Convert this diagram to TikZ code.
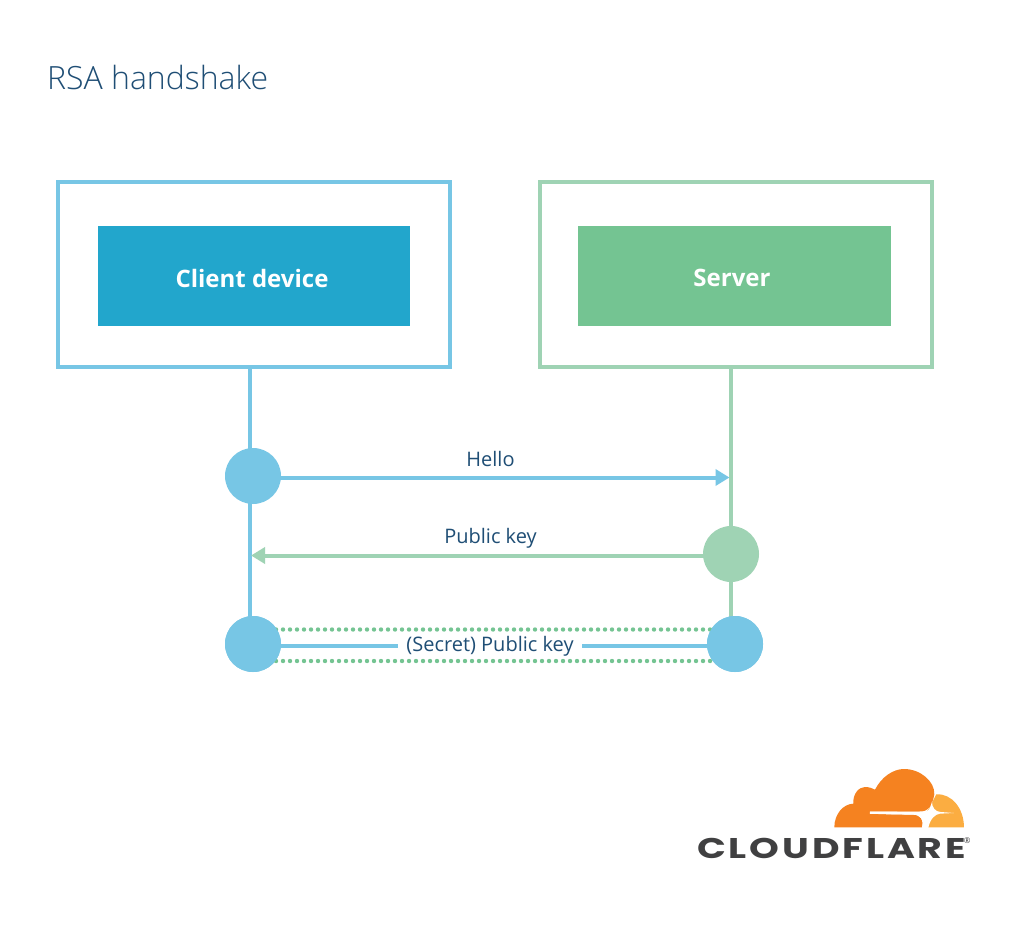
\documentclass[tikz,border=0pt]{standalone}
\usepackage{fontspec}
\setmainfont{Open Sans}
\newfontfamily\titlefont{Open Sans Light}
\newfontfamily\logofont[LetterSpace=10,FakeStretch=1.33]{Poppins Bold}
\usetikzlibrary{arrows.meta}
\definecolor{ltblue}{HTML}{77C6E5}
\definecolor{ltgreen}{HTML}{9FD3B4}
\definecolor{dblue}{HTML}{22A6CC}
\definecolor{dgreen}{HTML}{74C492}
\definecolor{navy}{HTML}{1F4E75}
\definecolor{cforange}{HTML}{F58220}
\definecolor{cflight}{HTML}{FBAD41}
\definecolor{cfgrey}{HTML}{404041}
\tikzset{
  frame/.style={draw=#1,line width=4pt,fill=white,inner sep=0pt,anchor=north west},
  inner/.style={fill=#1,inner sep=0pt,minimum width=312.5pt,minimum height=100pt},
  boxlabel/.style={text=white,font=\fontsize{24}{28}\selectfont\bfseries,inner sep=0pt},
  dot/.style={circle,fill=#1,inner sep=0pt,minimum size=56pt},
  lifeline/.style={draw=#1,line width=4pt},
  msg/.style={draw=#1,line width=4pt,-{Triangle[length=14pt,width=16pt]}},
  plainmsg/.style={draw=#1,line width=4pt},
  dots/.style={draw=dgreen,line width=4.4pt,line cap=round,dash pattern=on 0pt off 7pt},
  label/.style={text=navy,font=\fontsize{20}{24}\selectfont,inner sep=0pt},
}
\begin{document}
\begin{tikzpicture}[x=1pt,y=-1pt]
\useasboundingbox (0,0) rectangle (1016,936);
\fill[white] (0,0) rectangle (1016,936);
\node[text=navy,font=\titlefont\fontsize{32}{36}\selectfont,anchor=base west,inner sep=0pt] (title) at (47,90) {RSA handshake};
\node[frame=ltblue,minimum width=391.5pt,minimum height=185pt] (clientbox) at (56,180) {};
\node[frame=ltgreen,minimum width=391.5pt,minimum height=185pt] (serverbox) at (538,180) {};
\node[inner=dblue] (clientbg) at (254,276) {};
\node[inner=dgreen] (serverbg) at (734.5,276) {};
\node[boxlabel] (client) at (252,278) {Client device};
\node[boxlabel] (server) at (732,278) {Server};
\coordinate (ctop) at (250,368);
\coordinate (cbot) at (250,630);
\coordinate (stop) at (731,368);
\coordinate (sbot) at (731,630);
\draw[lifeline=ltblue] (ctop) -- (cbot);
\draw[lifeline=ltgreen] (stop) -- (sbot);
\node[dot=ltblue] (c1) at (253,476) {};
\node[dot=ltgreen] (s2) at (731,554) {};
\node[dot=ltblue] (c3) at (253,644) {};
\node[dot=ltblue] (s3) at (735,644) {};
\coordinate (helloend) at (729.5,477.5);
\coordinate (helloout) at (270,477.5);
\coordinate (keyend) at (251,555.5);
\coordinate (keyout) at (715,555.5);
\node[label] (hello) at (490.5,459) {Hello};
\node[label] (pubkey) at (490.5,538) {Public key};
\node[label,minimum width=184pt,minimum height=22pt] (secret) at (490,646) {\raisebox{-1pt}{(Secret) Public key}};
\draw[msg=ltblue] (helloout) -- (helloend);
\draw[msg=ltgreen] (keyout) -- (keyend);
\draw[plainmsg=ltblue] (c3.center |- secret) -- (secret.west);
\draw[plainmsg=ltblue] (secret.east) -- (s3.center |- secret);
\coordinate (d1a) at (276,629.5);
\coordinate (d1b) at (712,629.5);
\coordinate (d2a) at (276,661);
\coordinate (d2b) at (712,661);
\draw[dots] (d1a) -- (d1b);
\draw[dots] (d2a) -- (d2b);
\node[dot=ltblue] at (c3) {};
\node[dot=ltblue] at (s3) {};
% logo
\begin{scope}[shift={(680,750)},x=0.3333pt,y=-0.3333pt]
\fill[cflight] (769,133) .. controls (815,130) and (852,175) .. (852,232) -- (745,232) .. controls (745,220) and (742,205) .. (735,195) -- (758,155) -- cycle;
\fill[cforange] (463,232) .. controls (463,192) and (490,162) .. (520,161)
  .. controls (518,130) and (538,111) .. (555,111)
  .. controls (568,111) and (578,115) .. (585,119)
  .. controls (605,80) and (640,57) .. (672,57)
  .. controls (722,57) and (765,95) .. (763,133)
  .. controls (760,150) and (755,168) .. (742,178)
  .. controls (735,184) and (725,185) .. (700,185)
  -- (570,185) -- (570,192) -- (700,194)
  .. controls (722,195) and (732,210) .. (726,232) -- cycle;
\fill[white] (570,184.5) -- (735,186) .. controls (745,186) and (752,172) .. (756,155)
  .. controls (756,172) and (765,185) .. (782,186) -- (822,189) -- (780,191)
  .. controls (765,193) and (752,205) .. (745,232) -- (726,232)
  .. controls (733,210) and (722,195) .. (700,194) -- (570,191.5) -- cycle;
\node[text=cfgrey,anchor=base west,inner sep=0pt,font=\logofont\fontsize{28.5}{30}\selectfont] (logo) at (51,325) {CLOUDFLARE};
\node[text=cfgrey,inner sep=0pt,font=\fontsize{8}{9}\selectfont] (reg) at (862,271) {®};
\end{scope}
\end{tikzpicture}
\end{document}
